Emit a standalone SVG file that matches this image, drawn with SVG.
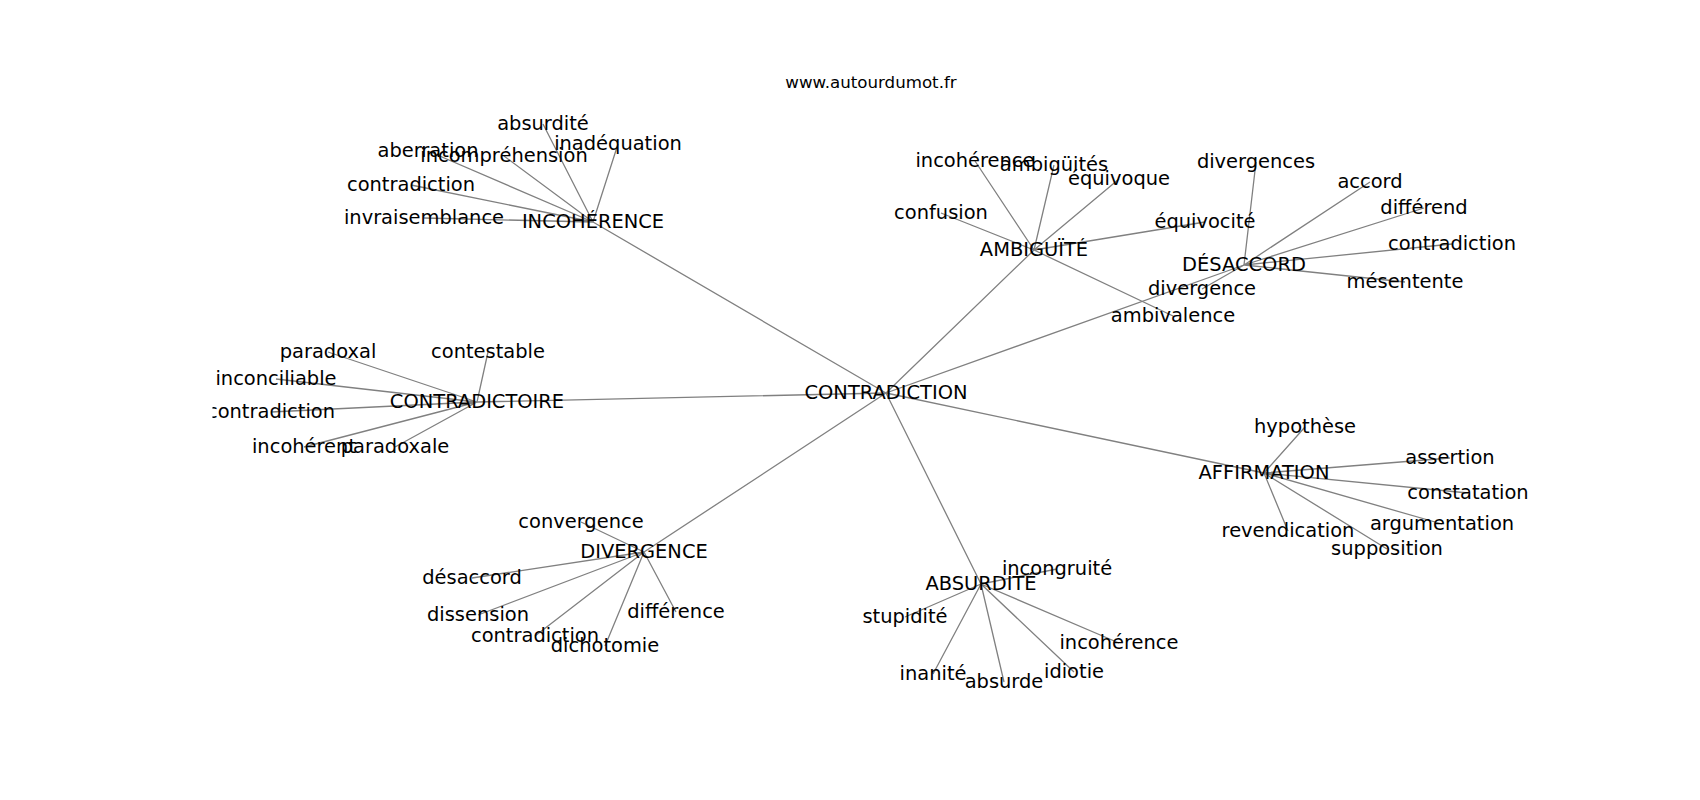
<svg xmlns="http://www.w3.org/2000/svg" width="1700" height="800" viewBox="0 0 1700 800">
<style>
.e{stroke:#808080;stroke-width:1.3;fill:none}
text{font-family:"DejaVu Sans","Liberation Sans",sans-serif;fill:#000;text-anchor:middle}
.n text{font-size:19.44px}
.t{font-size:16.67px}
</style>
<defs><clipPath id="ax"><rect x="212.5" y="96" width="1317.5" height="616"/></clipPath></defs>
<rect width="1700" height="800" fill="#fff"/>
<text class="t" x="871" y="88">www.autourdumot.fr</text>
<g id="edges" class="e" clip-path="url(#ax)">
<path d="M886 393L593 222M886 393L1034 250M886 393L1244 265M886 393L477 402M886 393L644 552M886 393L981 584M886 393L1264 473"/>
<path d="M593 222L543 124M593 222L618 144M593 222L428 151M593 222L504 156M593 222L411 185M593 222L424 218"/>
<path d="M1034 250L975 161M1034 250L1054 165M1034 250L1119 179M1034 250L941 213M1034 250L1205 222M1034 250L1173 316"/>
<path d="M1244 265L1256 162M1244 265L1370 182M1244 265L1424 208M1244 265L1452 244M1244 265L1405 282M1244 265L1202 289"/>
<path d="M477 402L328 352M477 402L488 352M477 402L276 379M477 402L271 412M477 402L304 447M477 402L395 447"/>
<path d="M644 552L581 522M644 552L472 578M644 552L478 615M644 552L676 612M644 552L535 636M644 552L605 646"/>
<path d="M981 584L1057 569M981 584L905 617M981 584L1119 643M981 584L933 674M981 584L1004 682M981 584L1074 672"/>
<path d="M1264 473L1305 427M1264 473L1450 458M1264 473L1468 493M1264 473L1442 524M1264 473L1288 531M1264 473L1387 549"/>
</g>
<g id="nodes" class="n" clip-path="url(#ax)">
<g id="n-contradiction"><text x="886" y="399">CONTRADICTION</text></g>
<g id="n-incoherence"><text x="593" y="228">INCOHÉRENCE</text></g>
<g id="n-ambiguite"><text x="1034" y="256">AMBIGUÏTÉ</text></g>
<g id="n-desaccord"><text x="1244" y="271">DÉSACCORD</text></g>
<g id="n-contradictoire"><text x="477" y="408">CONTRADICTOIRE</text></g>
<g id="n-divergence"><text x="644" y="558">DIVERGENCE</text></g>
<g id="n-absurdite"><text x="981" y="590">ABSURDITÉ</text></g>
<g id="n-affirmation"><text x="1264" y="479">AFFIRMATION</text></g>
<g id="l1-absurdite"><text x="543" y="130">absurdité</text></g>
<g id="l1-inadequation"><text x="618" y="150">inadéquation</text></g>
<g id="l1-aberration"><text x="428" y="157">aberration</text></g>
<g id="l1-incomprehension"><text x="504" y="162">incompréhension</text></g>
<g id="l1-contradiction"><text x="411" y="191">contradiction</text></g>
<g id="l1-invraisemblance"><text x="424" y="224">invraisemblance</text></g>
<g id="l2-incoherence"><text x="975" y="167">incohérence</text></g>
<g id="l2-ambiguites"><text x="1054" y="171">ambigüités</text></g>
<g id="l2-equivoque"><text x="1119" y="185">équivoque</text></g>
<g id="l2-confusion"><text x="941" y="219">confusion</text></g>
<g id="l2-equivocite"><text x="1205" y="228">équivocité</text></g>
<g id="l2-ambivalence"><text x="1173" y="322">ambivalence</text></g>
<g id="l3-divergences"><text x="1256" y="168">divergences</text></g>
<g id="l3-accord"><text x="1370" y="188">accord</text></g>
<g id="l3-differend"><text x="1424" y="214">différend</text></g>
<g id="l3-contradiction"><text x="1452" y="250">contradiction</text></g>
<g id="l3-mesentente"><text x="1405" y="288">mésentente</text></g>
<g id="l3-divergence"><text x="1202" y="295">divergence</text></g>
<g id="l4-paradoxal"><text x="328" y="358">paradoxal</text></g>
<g id="l4-contestable"><text x="488" y="358">contestable</text></g>
<g id="l4-inconciliable"><text x="276" y="385">inconciliable</text></g>
<g id="l4-contradiction"><text x="271" y="418">contradiction</text></g>
<g id="l4-incoherent"><text x="304" y="453">incohérent</text></g>
<g id="l4-paradoxale"><text x="395" y="453">paradoxale</text></g>
<g id="l5-convergence"><text x="581" y="528">convergence</text></g>
<g id="l5-desaccord"><text x="472" y="584">désaccord</text></g>
<g id="l5-dissension"><text x="478" y="621">dissension</text></g>
<g id="l5-difference"><text x="676" y="618">différence</text></g>
<g id="l5-contradiction"><text x="535" y="642">contradiction</text></g>
<g id="l5-dichotomie"><text x="605" y="652">dichotomie</text></g>
<g id="l6-incongruite"><text x="1057" y="575">incongruité</text></g>
<g id="l6-stupidite"><text x="905" y="623">stupidité</text></g>
<g id="l6-incoherence"><text x="1119" y="649">incohérence</text></g>
<g id="l6-inanite"><text x="933" y="680">inanité</text></g>
<g id="l6-absurde"><text x="1004" y="688">absurde</text></g>
<g id="l6-idiotie"><text x="1074" y="678">idiotie</text></g>
<g id="l7-hypothese"><text x="1305" y="433">hypothèse</text></g>
<g id="l7-assertion"><text x="1450" y="464">assertion</text></g>
<g id="l7-constatation"><text x="1468" y="499">constatation</text></g>
<g id="l7-argumentation"><text x="1442" y="530">argumentation</text></g>
<g id="l7-revendication"><text x="1288" y="537">revendication</text></g>
<g id="l7-supposition"><text x="1387" y="555">supposition</text></g>
</g>
</svg>
